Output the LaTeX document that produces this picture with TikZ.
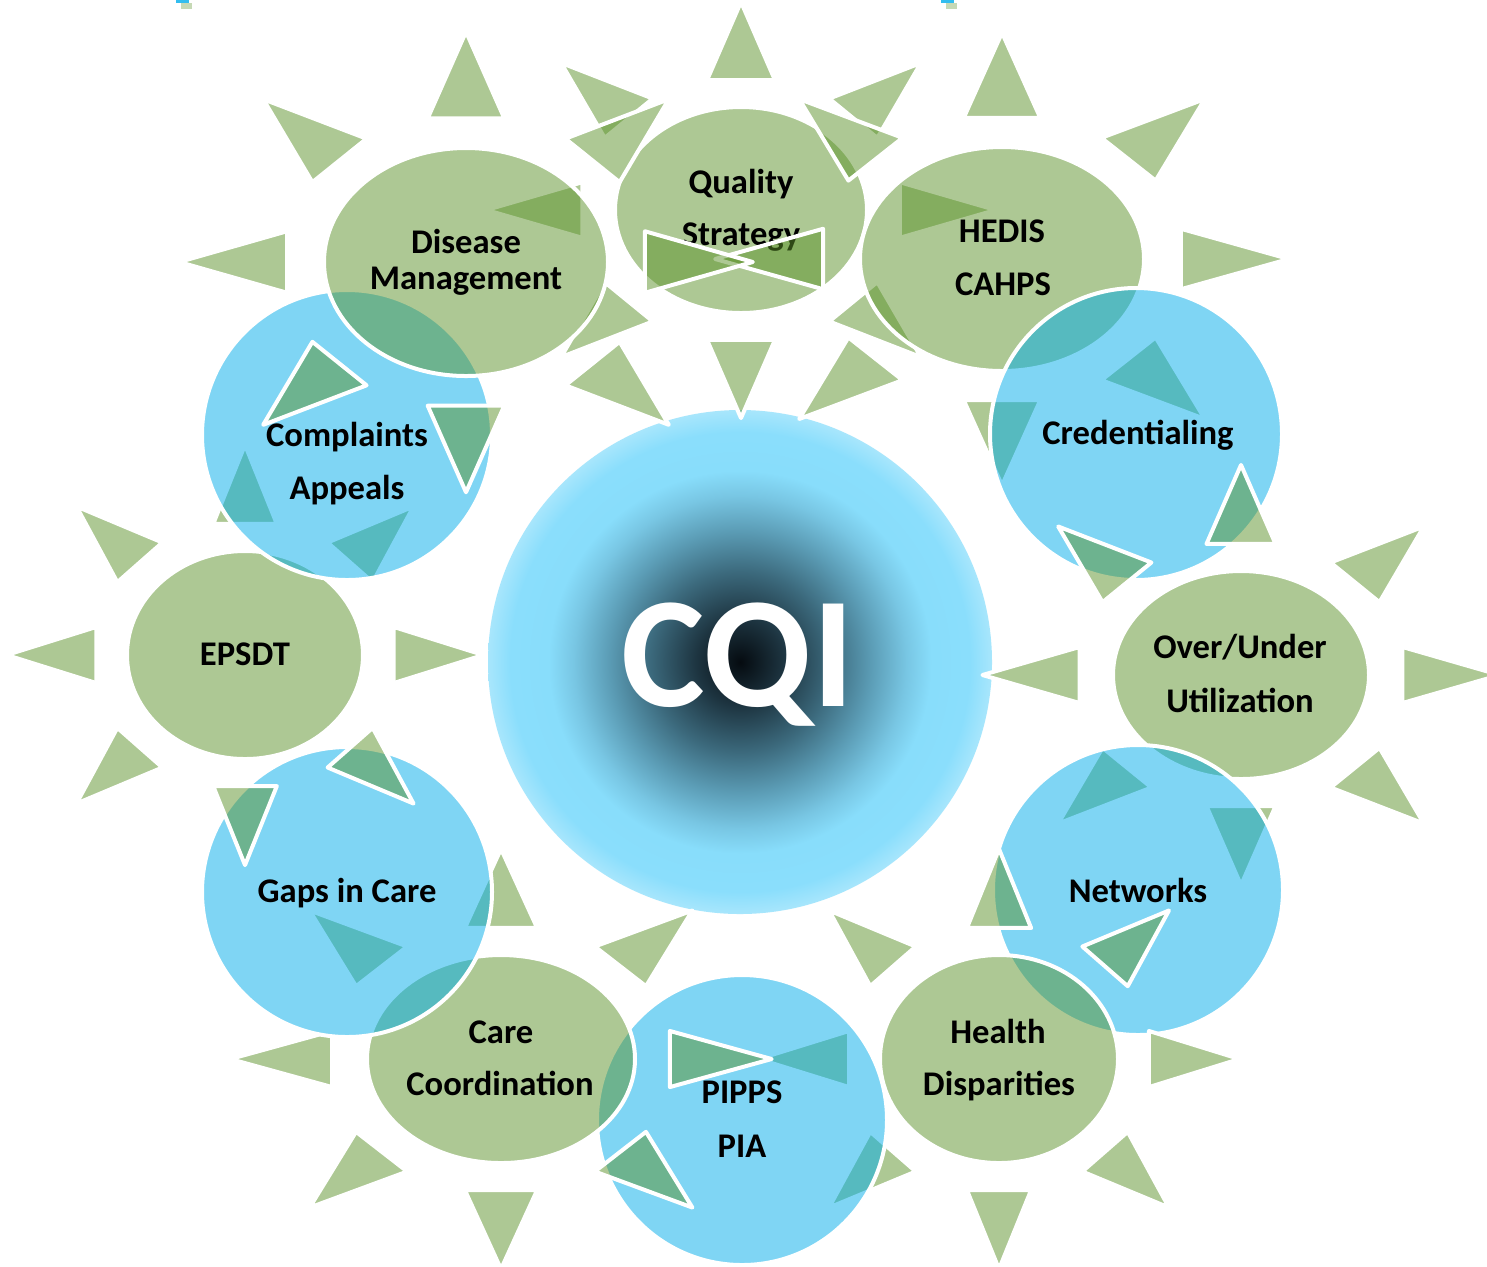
\documentclass[tikz,border=0pt]{standalone}
\usepackage{fontspec}
\setmainfont{Carlito}
\definecolor{sungreen}{HTML}{5D932B}
\definecolor{bubbleblue}{HTML}{00ADEB}
\definecolor{cqa}{HTML}{050B10}
\definecolor{cqb}{HTML}{1D3440}
\definecolor{cqc}{HTML}{3C6A7D}
\definecolor{cqd}{HTML}{5B9CB5}
\definecolor{cqe}{HTML}{78C6E3}
\definecolor{cqf}{HTML}{88DDFB}
\definecolor{cqg}{HTML}{8ADEFC}
\definecolor{cqh}{HTML}{A8E6FC}
\pgfdeclareradialshading{cqishade}{\pgfpoint{0bp}{0bp}}{color(0bp)=(cqa); color(4.3bp)=(cqb); color(9bp)=(cqc); color(13bp)=(cqd); color(16.5bp)=(cqe); color(19bp)=(cqf); color(22.8bp)=(cqg); color(25bp)=(cqh); color(50bp)=(cqh)}
\tikzset{
  sunbody/.style={fill=sungreen, fill opacity=0.5, draw=white, draw opacity=1, line width=2pt, line join=round},
  bubble/.style={fill=bubbleblue, fill opacity=0.5, draw=white, draw opacity=1, line width=2pt},
  lbl/.style={font=\fontsize{17.3}{21}\selectfont\bfseries, text=black, anchor=base, inner sep=0pt},
  cqilbl/.style={font=\fontsize{79}{90}\selectfont\bfseries, text=white, anchor=base, inner sep=0pt},
}
\newcommand\greensun[4]{%
  \begin{scope}[shift={(#1,#2)}, xscale=#3, yscale=#4]
    \path[sunbody] (0,0) circle (1)
      \foreach \a in {0,45,...,315} {({\a+12.09}:1.2886) -- (\a:2.02) -- ({\a-12.09}:1.2886) -- cycle};
  \end{scope}}
\begin{document}
\begin{tikzpicture}[x=0.5pt,y=-0.5pt]
\useasboundingbox (0,0) rectangle (1487,1266);
\fill[white] (0,0) rectangle (1487,1266);
% small marks on the top edge
\fill[bubbleblue!80] (176,0) rectangle (189,3);
\fill[sungreen!35] (181,3) rectangle (192,9);
\fill[bubbleblue!80] (941,0) rectangle (954,3);
\fill[sungreen!35] (946,3) rectangle (957,9);
% central circle
\shade[shading=cqishade] (740,662) circle (252);
\node[cqilbl] (cqi) at (738,706) {CQI};
% items, in drawing order
\greensun{741}{210}{126}{103}
\node[lbl] (qs1) at (741,193) {Quality};
\node[lbl] (qs2) at (741,245) {Strategy};
\greensun{1002}{259}{142}{112}
\node[lbl] (he1) at (1002,242) {HEDIS};
\node[lbl] (he2) at (1003,295) {CAHPS};
\path[bubble] (1136,434) circle (146);
\node[lbl] (cred) at (1138,444) {Credentialing};
\greensun{1241}{675}{128}{104}
\node[lbl] (ou1) at (1240,658) {Over/Under};
\node[lbl] (ou2) at (1240,712) {Utilization};
\path[bubble] (1138,890) circle (145);
\node[lbl] (net) at (1138,902) {Networks};
\greensun{999}{1059}{119}{104}
\node[lbl] (hd1) at (998,1043) {Health};
\node[lbl] (hd2) at (999,1095) {Disparities};
\path[bubble] (742,1120) circle (145);
\node[lbl] (pi1) at (742,1103) {PIPPS};
\node[lbl] (pi2) at (742,1157) {PIA};
\greensun{501}{1059}{134}{104}
\node[lbl] (cc1) at (501,1043) {Care};
\node[lbl] (cc2) at (500,1095) {Coordination};
\path[bubble] (347,892) circle (145);
\node[lbl] (gap) at (347,902) {Gaps in Care};
\greensun{245}{655}{118}{104}
\node[lbl] (eps) at (245,665) {EPSDT};
\path[bubble] (347,435) circle (145);
\node[lbl] (co1) at (347,446) {Complaints};
\node[lbl] (co2) at (347,499) {Appeals};
\greensun{466}{262}{142}{114}
\node[lbl] (dm1) at (466,253) {Disease};
\node[lbl] (dm2) at (466,289) {Management};
\end{tikzpicture}
\end{document}
